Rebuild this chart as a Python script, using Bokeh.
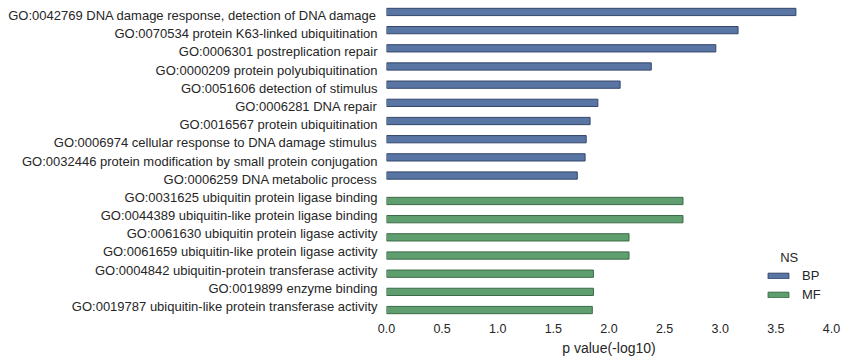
from bokeh.plotting import figure
from bokeh.models import ColumnDataSource, Range1d, FixedTicker, Legend, LegendItem, Label
from bokeh.embed import file_html
from bokeh.resources import INLINE
from bokeh.transform import dodge

# ---- data ----
bp_terms = [
    "GO:0042769 DNA damage response, detection of DNA damage",
    "GO:0070534 protein K63-linked ubiquitination",
    "GO:0006301 postreplication repair",
    "GO:0000209 protein polyubiquitination",
    "GO:0051606 detection of stimulus",
    "GO:0006281 DNA repair",
    "GO:0016567 protein ubiquitination",
    "GO:0006974 cellular response to DNA damage stimulus",
    "GO:0032446 protein modification by small protein conjugation",
    "GO:0006259 DNA metabolic process",
]
bp_values = [3.68, 3.16, 2.96, 2.38, 2.10, 1.90, 1.83, 1.795, 1.785, 1.715]

mf_terms = [
    "GO:0031625 ubiquitin protein ligase binding",
    "GO:0044389 ubiquitin-like protein ligase binding",
    "GO:0061630 ubiquitin protein ligase activity",
    "GO:0061659 ubiquitin-like protein ligase activity",
    "GO:0004842 ubiquitin-protein transferase activity",
    "GO:0019899 enzyme binding",
    "GO:0019787 ubiquitin-like protein transferase activity",
]
mf_values = [2.665, 2.665, 2.18, 2.18, 1.86, 1.86, 1.85]

namespaces = ["BP", "MF"]
x_ticks = [0.0, 0.5, 1.0, 1.5, 2.0, 2.5, 3.0, 3.5, 4.0]

all_terms = bp_terms + mf_terms
bp_pos = list(range(len(bp_terms)))
mf_pos = list(range(len(bp_terms), len(all_terms)))

FONT = "Liberation Sans"
TXT = "#262626"

p = figure(width=848, height=362, output_backend="svg", toolbar_location=None,
           x_range=Range1d(0, 4.0), y_range=Range1d(16.5, -0.5),
           min_border_left=386, min_border_right=17, min_border_top=6, min_border_bottom=47)
p.outline_line_color = None
p.xgrid.visible = False
p.ygrid.visible = False
p.background_fill_color = "white"
p.border_fill_color = "white"

src_bp = ColumnDataSource(dict(pos=bp_pos, val=bp_values))
src_mf = ColumnDataSource(dict(pos=mf_pos, val=mf_values))

r_bp = p.hbar(y=dodge("pos", -0.2), left=0, right="val", height=0.4, source=src_bp,
              fill_color="#5875a4", line_color="#34466a", line_width=1)
r_mf = p.hbar(y=dodge("pos", 0.2), left=0, right="val", height=0.4, source=src_mf,
              fill_color="#5f9e6e", line_color="#3b6a47", line_width=1)

# axes
p.yaxis.ticker = FixedTicker(ticks=list(range(len(all_terms))))
p.yaxis.major_label_overrides = {i: t for i, t in enumerate(all_terms)}
p.xaxis.ticker = FixedTicker(ticks=x_ticks)
p.xaxis.major_label_overrides = {v: f"{v:.1f}" for v in x_ticks}
for ax in (p.xaxis, p.yaxis):
    ax.axis_line_color = None
    ax.major_tick_line_color = None
    ax.minor_tick_line_color = None
    ax.major_tick_out = 0
    ax.major_tick_in = 0
    ax.minor_tick_out = 0
    ax.major_label_text_font = FONT
    ax.major_label_text_color = TXT
p.yaxis.major_label_text_font_size = "13px"
p.yaxis.major_label_standoff = 9
p.xaxis.major_label_text_font_size = "12.5px"
p.xaxis.major_label_standoff = 8
p.xaxis.axis_label = "p value(-log10)"
p.xaxis.axis_label_text_font = FONT
p.xaxis.axis_label_text_font_size = "14px"
p.xaxis.axis_label_text_font_style = "normal"
p.xaxis.axis_label_text_color = TXT
p.xaxis.axis_label_standoff = 4

legend = Legend(items=[LegendItem(label=namespaces[0], renderers=[r_bp]),
                       LegendItem(label=namespaces[1], renderers=[r_mf])],
                location=(379, 11), padding=0, margin=0, spacing=0,
                glyph_width=26, glyph_height=7, label_height=19, label_standoff=11,
                label_text_font=FONT, label_text_font_size="13px", label_text_color=TXT,
                border_line_color=None, background_fill_alpha=0)
p.add_layout(legend)
p.add_layout(Label(x=3.62, y=13.31, text="NS", text_align="center", text_baseline="middle",
                   text_font=FONT, text_font_size="13px", text_color=TXT))

open("out.html", "w").write(file_html(p, INLINE))
